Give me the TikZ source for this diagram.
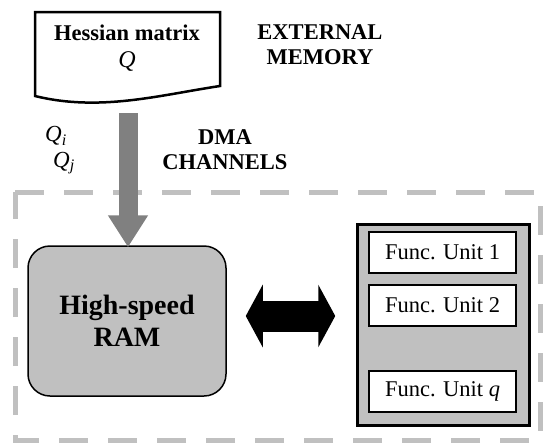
\documentclass[tikz,border=0pt]{standalone}
\usepackage{fontspec}
\setmainfont{Liberation Serif}
\usetikzlibrary{arrows.meta,calc}
\definecolor{boxgray}{RGB}{192,192,192}
\definecolor{busgray}{RGB}{128,128,128}

\begin{document}
\begin{tikzpicture}[x=1pt,y=-1pt,
    every node/.style={font=\fontsize{22.5}{25}\selectfont, align=center},
    unitbox/.style={draw, line width=1.5pt, fill=white, minimum width=147pt, minimum height=41pt, inner sep=0pt},
    qlabel/.style={inner sep=0pt, font=\fontsize{23}{24}\selectfont},
    busarrow/.style={busgray, line width=19pt, -{Triangle[width=38pt,length=32pt]}},
    linkarrow/.style={black, line width=31pt, {Triangle[width=62pt,length=17pt]}-{Triangle[width=62pt,length=17pt]}}]
    \useasboundingbox (0,0) rectangle (543,445);

    % Chip boundary
    \draw[boxgray, line width=5pt, dash pattern=on 29pt off 20pt] (15,192) -- (540,192) -- (540,440) -- (15,440) -- cycle;

    % External memory
    \draw[line width=2.5pt] (35,12) -- (220,12) -- (220,86) .. controls (160,95) and (100,112) .. (35,96) -- cycle;
    \node (hess) at (127,48) {\textbf{Hessian matrix}\\[2pt]{\fontsize{24}{26}\selectfont\textit{Q}}};
    \node (extmem) at (320,45) {\textbf{EXTERNAL}\\\textbf{MEMORY}};

    % DMA channels
    \node[qlabel, anchor=west] (qi) at (45,136) {\textit{Q}\textsubscript{\textit{i}}};
    \node[qlabel, anchor=west] (qj) at (53,163) {\textit{Q}\textsubscript{\textit{j}}};
    \node (dma) at (225,150) {\textbf{DMA}\\\textbf{CHANNELS}};

    % RAM and functional units
    \node[draw, line width=1.5pt, fill=boxgray, rounded corners=22pt, minimum width=198pt, minimum height=150pt,
        font=\fontsize{28}{32}\selectfont] (ram) at (127,321) {\textbf{High-speed}\\\textbf{RAM}};
    \node[draw, line width=2.5pt, fill=boxgray, minimum width=172pt, minimum height=201pt] (fu) at (443.5,325) {};
    \node[unitbox] (fu1) at (442.5,252.5) {Func. Unit 1};
    \node[unitbox] (fu2) at (442.5,305.5) {Func. Unit 2};
    \node[unitbox] (fuq) at (442.5,391.5) {Func. Unit \textit{q}};

    % Data paths
    \coordinate (busin) at (128,113);
    \draw[busarrow] (busin) -- ($(ram.north)+(1,2)$);
    \draw[linkarrow] ($(ram.east)+(19,-5)$) -- ($(fu.west)+(-21,-9)$);
\end{tikzpicture}
\end{document}
